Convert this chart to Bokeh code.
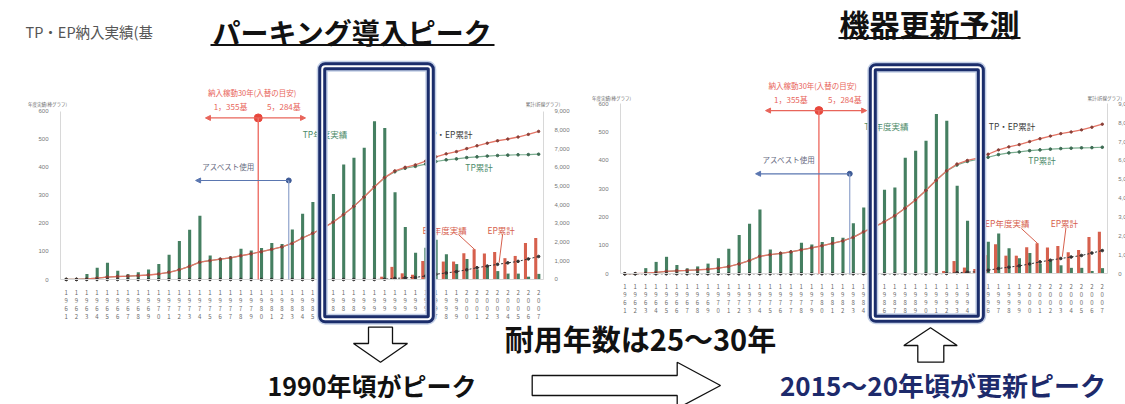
from bokeh.plotting import figure
from bokeh.models import (Range1d, LinearAxis, FixedTicker, NumeralTickFormatter, Label, Arrow,
                          NormalHead, BoxAnnotation, PolyAnnotation, ColumnDataSource)
from bokeh.transform import dodge
from bokeh.embed import file_html
from bokeh.resources import INLINE

FONT = "Noto Sans CJK JP"

# ---------------- data ----------------
years = list(range(1961, 2008))
tp_annual = [2, 3, 20, 42, 60, 31, 19, 26, 36, 55,
             88, 137, 177, 227, 86, 72, 78, 110, 103, 112,
             130, 127, 178, 234, 276, 297, 305, 410, 434, 470,
             564, 540, 311, 187, 95, 113, 142, 90, 55, 73,
             36, 46, 30, 21, 21, 10, 20]
ep_years = list(range(1992, 2008))
ep_annual = [10, 45, 22, 17, 66, 104, 64, 64, 94, 108, 93, 98, 76, 84, 130, 148]
tpep_cum = [5, 10, 30, 70, 130, 160, 180, 205, 240, 295,
            385, 520, 700, 925, 1010, 1085, 1160, 1270, 1375, 1485,
            1615, 1740, 1930, 2220, 2470, 2750, 3070, 3470, 3910, 4410,
            4950, 5450, 5810, 6000, 6130, 6330, 6560, 6720, 6840, 7000,
            7150, 7290, 7420, 7510, 7620, 7760, 7920]
tp_cum = [5, 10, 30, 70, 130, 160, 180, 205, 240, 295,
          385, 520, 700, 925, 1010, 1085, 1160, 1270, 1375, 1485,
          1615, 1740, 1930, 2220, 2470, 2750, 3070, 3470, 3910, 4410,
          4950, 5440, 5760, 5950, 6050, 6170, 6310, 6400, 6450, 6520,
          6560, 6600, 6630, 6650, 6670, 6680, 6700]
ep_cum = [0] * 31 + [15, 60, 85, 110, 190, 280, 350, 420, 520, 630, 720, 810, 890, 970, 1100, 1230]
bar_ticks = [0, 100, 200, 300, 400, 500, 600]
cum_ticks = [0, 1000, 2000, 3000, 4000, 5000, 6000, 7000, 8000, 9000]
year_tick_text = {y: "\n".join(str(y)) for y in years}

GREEN = "#457f61"
GREEN_TXT = "#4c8a69"
RED = "#d6604d"
RED_ANN = "#e8645a"
NAVY = "#1b2d6b"
BLUE = "#5a76b0"

REPLACE_YEAR = 1979.7      # 30-year replacement marker
ASBESTOS_YEAR = 1982.67    # end of asbestos use

# ---------------- one canvas, page-pixel layout range + per-chart ranges ----------------
W, H = 1125, 404
p = figure(width=W, height=H, x_range=Range1d(0, W), y_range=Range1d(H, 0),
           x_axis_type=None, y_axis_type=None, output_backend="svg", toolbar_location=None,
           min_border=0, outline_line_color=None, background_fill_color="white",
           border_fill_color="white")

# chart ranges (left chart "L", right chart "R"): years on x, bars 0-600 / cumulative 0-9000 on y
p.extra_x_ranges = {"Lx": Range1d(1954.603, 2064.145), "Rx": Range1d(1900.856, 2009.237)}
p.extra_y_ranges = {"Ly": Range1d(-445.63, 994.65), "Lc": Range1d(-6684.5, 14919.8),
                    "Ry": Range1d(-461.3, 964.6), "Rc": Range1d(-6919.5, 14469.0)}


def lab(text, x, y, color, size, xn, yn, align="center", weight="normal"):
    p.add_layout(Label(x=x, y=y, text=text, text_color=color, text_font=FONT,
                       text_font_size=size, text_align=align, text_baseline="middle",
                       text_font_style=weight, x_range_name=xn, y_range_name=yn))


def build_chart(xn, yn, cn, x0, x1, box, ytitle_y, ytitle_lx, ytitle_rx, ytitle_ralign):
    # axes
    xa = LinearAxis(x_range_name=xn, y_range_name=yn, fixed_location=0, bounds=(x0, x1),
                    ticker=FixedTicker(ticks=years), major_label_overrides=year_tick_text)
    xa.major_label_text_font_size = "6px"
    xa.major_label_text_line_height = 0.9
    xa.major_label_text_color = "#6a6a6a"
    xa.major_label_text_font = FONT
    xa.axis_line_color = "#d8d8d8"
    xa.major_tick_line_color = None
    xa.minor_tick_line_color = None
    xa.major_label_standoff = 2
    p.add_layout(xa, "below")

    ya = LinearAxis(x_range_name=xn, y_range_name=yn, fixed_location=x0, bounds=(0, 600),
                    ticker=FixedTicker(ticks=bar_ticks))
    ya.major_label_text_font_size = "6px"
    ya.major_label_text_color = "#777777"
    ya.axis_line_color = "#d8d8d8"
    ya.major_tick_line_color = None
    ya.minor_tick_line_color = None
    ya.major_label_standoff = 6
    p.add_layout(ya, "left")

    ra = LinearAxis(x_range_name=xn, y_range_name=cn, fixed_location=x1, bounds=(0, 9000),
                    ticker=FixedTicker(ticks=cum_ticks), formatter=NumeralTickFormatter(format="0,0"))
    ra.major_label_text_font_size = "6px"
    ra.major_label_text_color = "#777777"
    ra.axis_line_color = "#d8d8d8"
    ra.major_tick_line_color = None
    ra.minor_tick_line_color = None
    ra.major_label_standoff = 5
    p.add_layout(ra, "right")

    # data
    tp_src = ColumnDataSource(dict(year=years, tp=tp_annual, tpep=tpep_cum, tpc=tp_cum, epc=ep_cum))
    ep_src = ColumnDataSource(dict(year=ep_years, ep=ep_annual))
    p.vbar(x=dodge("year", 0.02), top="tp", width=0.3, source=tp_src,
           fill_color=GREEN, line_color=None, x_range_name=xn, y_range_name=yn)
    p.vbar(x=dodge("year", -0.28), top="ep", width=0.3, source=ep_src,
           fill_color=RED, line_color=None, x_range_name=xn, y_range_name=yn)

    kw = dict(source=tp_src, x_range_name=xn, y_range_name=cn)
    p.line("year", "tpc", line_color="#7aad8f", line_width=1.2, **kw)
    p.scatter("year", "tpc", size=2.6, color="#3d6b53", **kw)
    p.line("year", "tpep", line_color="#e47566", line_width=1.3, **kw)
    p.scatter("year", "tpep", size=2.4, color="#8a4038", **kw)
    p.line("year", "epc", line_color="#333333", line_width=1, line_dash="2 2", **kw)
    p.scatter("year", "epc", size=2.6, color="#333333", **kw)

    # series labels
    lab("TP年度実績", 1986.2, 520, GREEN_TXT, "8.5px", xn, yn)
    lab("TP・EP累計", 1998.3, 520, "#3a3a3a", "8.5px", xn, yn)
    lab("TP累計", 2001.2, 400, GREEN_TXT, "8.5px", xn, yn)
    lab("EP年度実績", 1997.85, 178, RED, "8.5px", xn, yn)
    lab("EP累計", 2003.35, 178, RED, "8.5px", xn, yn)
    for xs0, ys0, xs1, ys1 in ((1999.2, 160, 2000.8, 106), (2003.5, 162, 2003.15, 60)):
        p.add_layout(Arrow(x_start=xs0, y_start=ys0, x_end=xs1, y_end=ys1, end=None,
                           line_color=RED, line_width=1, x_range_name=xn, y_range_name=yn))

    # axis titles
    lab("年度実績(棒グラフ)", ytitle_lx, ytitle_y, "#666666", "4.5px", xn, yn)
    lab("累計(折線グラフ)", ytitle_rx, ytitle_y, "#666666", "4.5px", xn, yn, align=ytitle_ralign)

    # 30-year replacement annotation
    lab("納入稼動30年(入替の目安)", 1979.1, 666, RED_ANN, "7.5px", xn, yn)
    lab("1，355基", 1977.0, 616, RED_ANN, "8px", xn, yn)
    lab("5，284基", 1982.2, 616, RED_ANN, "8px", xn, yn)
    p.add_layout(Arrow(x_start=1974.56, y_start=576, x_end=1984.3, y_end=576,
                       start=NormalHead(size=5, fill_color=RED_ANN, line_color=RED_ANN),
                       end=NormalHead(size=5, fill_color=RED_ANN, line_color=RED_ANN),
                       line_color=RED_ANN, line_width=1.3, x_range_name=xn, y_range_name=yn))
    p.add_layout(Arrow(x_start=REPLACE_YEAR, y_start=576, x_end=REPLACE_YEAR, y_end=0, end=None,
                       line_color="#ee7067", line_width=1.4, x_range_name=xn, y_range_name=yn))
    p.scatter([REPLACE_YEAR], [576], size=8, color="#e8473c", x_range_name=xn, y_range_name=yn)

    # asbestos annotation
    lab("アスベスト使用", 1976.8, 404, "#666a80", "7.5px", xn, yn)
    p.add_layout(Arrow(x_start=ASBESTOS_YEAR, y_start=353, x_end=1973.6, y_end=353,
                       end=NormalHead(size=5, fill_color=BLUE, line_color=BLUE),
                       line_color=BLUE, line_width=1.2, x_range_name=xn, y_range_name=yn))
    p.add_layout(Arrow(x_start=ASBESTOS_YEAR, y_start=353, x_end=ASBESTOS_YEAR, y_end=0, end=None,
                       line_color="#8fa3cc", line_width=1.2, x_range_name=xn, y_range_name=yn))
    p.scatter([ASBESTOS_YEAR], [353], size=5, color="#3d5a96", x_range_name=xn, y_range_name=yn)

    # highlighted period (double navy border)
    bx0, bx1, by0, by1 = box
    for lc, lw in (("#c3cfe6", 11), (NAVY, 8), ("white", 2)):
        p.add_layout(BoxAnnotation(left=bx0, right=bx1, bottom=by0, top=by1,
                                   fill_alpha=0, fill_color=None, line_color=lc, line_alpha=1,
                                   line_width=lw, border_radius=3, level="overlay",
                                   x_range_name=xn, y_range_name=yn))


build_chart("Lx", "Ly", "Lc", 1960.445, 2007.476, (1985.93, 1996.5, -141.5, 760.4),
            624, 1959.18, 2007.43, "center")
build_chart("Rx", "Ry", "Rc", 1960.586, 2007.47, (1984.89, 1995.3, -158.8, 729.2),
            621, 1959.72, 2008.9, "right")

# ---------------- page titles (page-pixel layout range) ----------------
for text, x, y, color, size, weight, align in (
        ("TP・EP納入実績(基", 25, 31, "#555555", "14.5px", "normal", "left"),
        ("パーキング導入ピーク", 352, 31, "#111111", "28px", "bold", "center"),
        ("機器更新予測", 929, 22, "#111111", "30px", "bold", "center"),
        ("耐用年数は25～30年", 640, 337, "#111111", "29px", "bold", "center"),
        ("1990年頃がピーク", 371.5, 384, "#111111", "25px", "bold", "center"),
        ("2015～20年頃が更新ピーク", 942.5, 384, "#1d2a6b", "26px", "bold", "center")):
    p.add_layout(Label(x=x, y=y, text=text, text_color=color, text_font=FONT, text_font_size=size,
                       text_font_style=weight, text_align=align, text_baseline="middle"))

for ux0, ux1, uy in ((210, 494, 44.5), (838, 1020, 37.5)):
    p.add_layout(Arrow(x_start=ux0, y_start=uy, x_end=ux1, y_end=uy, end=None,
                       line_color="#111111", line_width=2))

# hollow block arrows
down_arrow_x = [368, 392, 392, 407, 380, 353, 368]
down_arrow_y = [326.7, 326.7, 343, 343, 361.7, 343, 343]
up_arrow_x = [930, 956.7, 943.3, 943.3, 917.3, 917.3, 903.3]
up_arrow_y = [327.3, 345, 345, 361.7, 361.7, 345, 345]
big_arrow_x = [531.7, 676.7, 676.7, 720, 676.7, 676.7, 531.7]
big_arrow_y = [375, 375, 361.7, 385, 408, 395, 395]
for xs, ys in ((down_arrow_x, down_arrow_y), (up_arrow_x, up_arrow_y), (big_arrow_x, big_arrow_y)):
    p.add_layout(PolyAnnotation(xs=xs, ys=ys, fill_color="white", fill_alpha=1,
                                line_color="#111111", line_alpha=1, line_width=1.3))

open("out.html", "w").write(file_html(p, INLINE))
